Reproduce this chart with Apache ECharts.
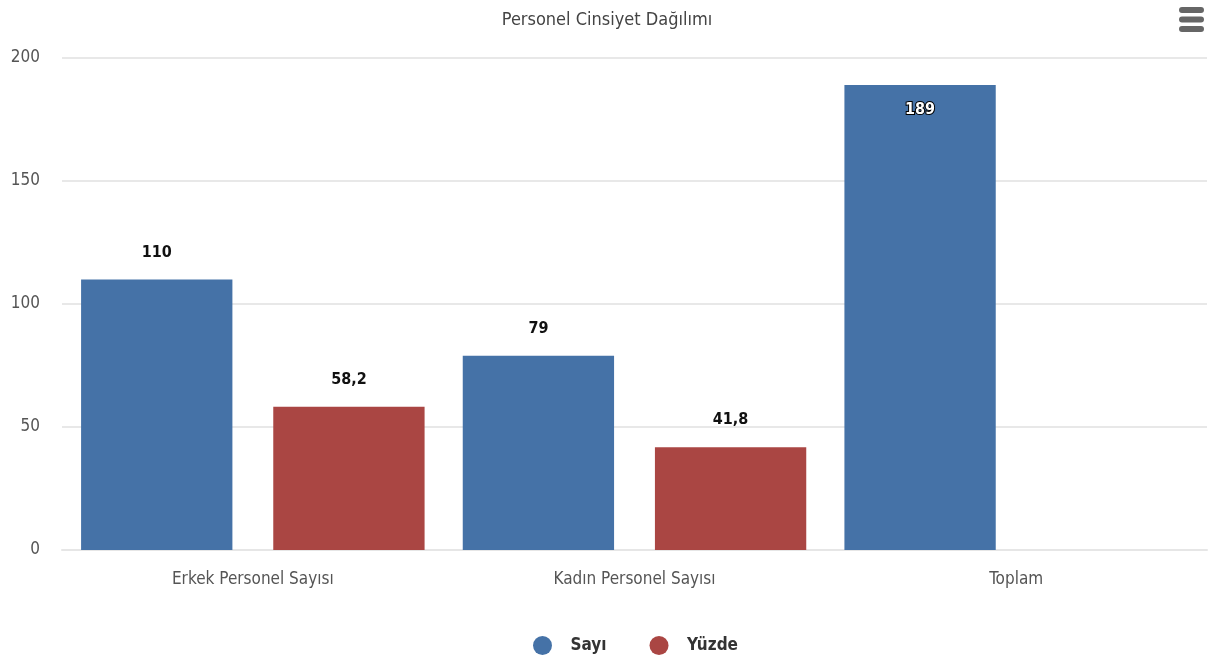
<!DOCTYPE html>
<html>
<head>
<meta charset="utf-8">
<script src="https://cdn.jsdelivr.net/npm/echarts@6/dist/echarts.min.js"></script>
<style>
html,body{margin:0;padding:0;background:#fff;}
#chart{width:1214px;height:662px;}
</style>
</head>
<body>
<div id="chart"></div>
<script>
const titleText = 'Personel Cinsiyet Dağılımı';
const categories = ['Erkek Personel Sayısı', 'Kadın Personel Sayısı', 'Toplam'];
const sayiValues = [110, 79, 189];
const yuzdeValues = [58.2, 41.8, null];
const seriesNames = ['Sayı', 'Yüzde'];
const yTicks = [0, 50, 100, 150, 200];

const FONT = '"DejaVu Sans Condensed", "DejaVu Sans", sans-serif';
const fmt = v => String(v).replace('.', ',');

const chart = echarts.init(document.getElementById('chart'), null, {renderer: 'canvas'});

const labelTop = {
  show: true, position: 'top', distance: 19,
  fontFamily: FONT, fontSize: 16, fontWeight: 'bold', color: '#111',
  formatter: p => fmt(p.value)
};

const sayiData = sayiValues.map((v, i) => {
  if (v > 180) {
    return {value: v, label: {position: 'insideTop', distance: 17, color: '#fff',
      textBorderColor: '#000', textBorderWidth: 2}};
  }
  return v;
});

chart.setOption({
  animation: false,
  title: {
    text: titleText, left: 'center', top: 6,
    textStyle: {fontFamily: FONT, fontSize: 18, fontWeight: 'normal', color: '#444'}
  },
  toolbox: {
    right: -5, top: -8, itemSize: 25,
    iconStyle: {color: '#666', borderColor: '#666', borderWidth: 0},
    feature: {
      myMenu: {
        show: true, title: '',
        icon: 'path://M3,0 L22,0 Q25,0 25,3 Q25,6 22,6 L3,6 Q0,6 0,3 Q0,0 3,0 Z M3,9.5 L22,9.5 Q25,9.5 25,12.5 Q25,15.5 22,15.5 L3,15.5 Q0,15.5 0,12.5 Q0,9.5 3,9.5 Z M3,19 L22,19 Q25,19 25,22 Q25,25 22,25 L3,25 Q0,25 0,22 Q0,19 3,19 Z',
        onclick: function () {}
      }
    }
  },
  legend: {
    bottom: 2, left: 528, icon: 'circle', itemWidth: 20, itemHeight: 19, itemGap: 43,
    textStyle: {fontFamily: FONT, fontSize: 17, fontWeight: 'bold', color: '#333', padding: [0, 0, 0, 13]},
    data: seriesNames
  },
  grid: {left: 62, right: 7, top: 58, bottom: 112, containLabel: false},
  xAxis: {
    type: 'category', data: categories,
    axisLine: {show: true, lineStyle: {color: '#e6e6e6', width: 2}},
    axisTick: {show: false},
    axisLabel: {fontFamily: FONT, fontSize: 17, color: '#555', margin: 21}
  },
  yAxis: {
    type: 'value', min: yTicks[0], max: yTicks[yTicks.length - 1], interval: 50,
    axisLine: {show: false}, axisTick: {show: false},
    axisLabel: {fontFamily: FONT, fontSize: 17, color: '#555', margin: 22},
    splitLine: {lineStyle: {color: '#e8e8e8', width: 2}}
  },
  series: [
    {
      name: seriesNames[0], type: 'bar', data: sayiData,
      itemStyle: {color: '#4572A7'},
      barGap: '27%', barCategoryGap: '10%',
      label: labelTop
    },
    {
      name: seriesNames[1], type: 'bar', data: yuzdeValues,
      itemStyle: {color: '#AA4643'},
      barGap: '27%', barCategoryGap: '10%',
      label: labelTop
    }
  ]
});
</script>
</body>
</html>
